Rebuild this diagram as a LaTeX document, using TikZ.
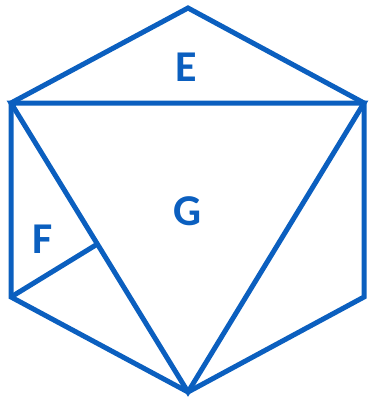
\documentclass[tikz,border=0pt]{standalone}
\usepackage{fontspec}
\setmainfont{Carlito}
\usetikzlibrary{calc}
\definecolor{hexblue}{HTML}{0B5FBF}
\tikzset{
  edge/.style={draw=hexblue, line width=5pt, line join=miter},
  lbl/.style={text=hexblue, font=\fontsize{44}{44}\selectfont\bfseries, inner sep=0pt}
}
\begin{document}
\begin{tikzpicture}[x=1pt,y=-1pt]
\useasboundingbox (0,0) rectangle (370,399);
\coordinate (T) at (188,8);
\coordinate (UL) at (11,103);
\coordinate (LL) at (11,297);
\coordinate (B) at (188,392);
\coordinate (LR) at (364,297);
\coordinate (UR) at (364,103);
\coordinate (P) at ($(UL)!(LL)!(B)$);
\draw[edge] (T) -- (UR) -- (LR) -- (B) -- (LL) -- (UL) -- cycle;
\draw[edge] (UL) -- (UR) -- (B) -- cycle;
\draw[edge] (LL) -- (P);
\node[lbl] (E) at (186,67) {E};
\node[lbl] (G) at (188,211) {G};
\node[lbl] (F) at (43,239) {F};
\end{tikzpicture}
\end{document}
